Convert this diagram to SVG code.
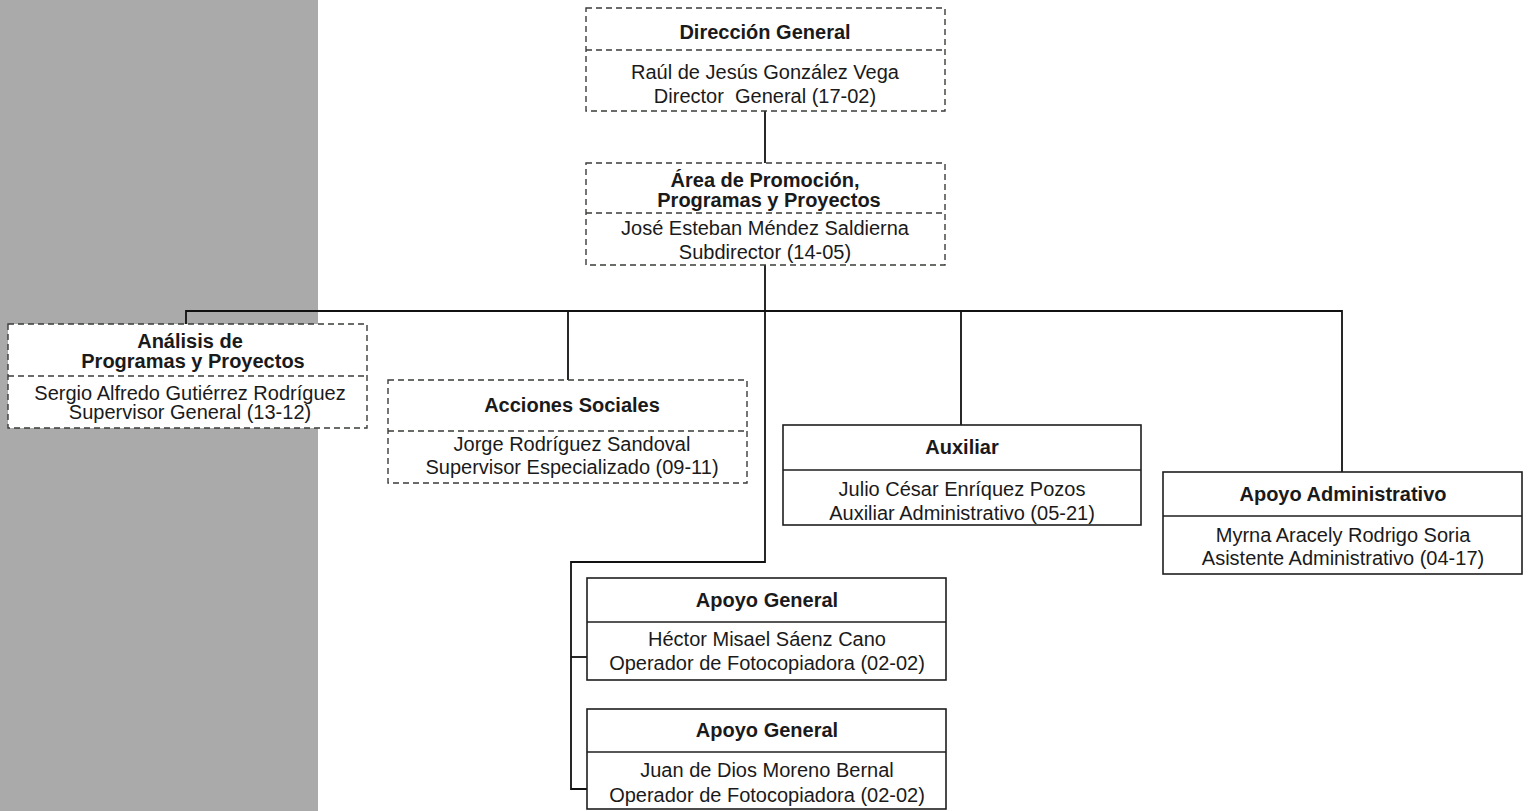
<svg xmlns="http://www.w3.org/2000/svg" width="1528" height="811" viewBox="0 0 1528 811">
<style>
.bg{fill:#ffffff}
.strip{fill:#a9aaa9}
.dash{fill:#ffffff;stroke:#3a3d38;stroke-width:1.4;stroke-dasharray:6 4}
.dl{stroke:#3a3d38;stroke-width:1.4;stroke-dasharray:6 4;fill:none}
.solid{fill:#ffffff;stroke:#1e1e1e;stroke-width:1.6}
.sl{stroke:#1e1e1e;stroke-width:1.4;fill:none}
.conn{stroke:#111;stroke-width:1.8;fill:none}
.t{font-family:"Liberation Sans",Arial,sans-serif;font-size:20px;font-weight:bold;fill:#1a1a1a;text-anchor:middle}
.n{font-family:"Liberation Sans",Arial,sans-serif;font-size:20px;fill:#1a1a1a;text-anchor:middle}
</style>
<rect class="bg" x="0" y="0" width="1528" height="811"/>
<rect class="strip" x="0" y="0" width="318" height="811"/>
<g id="connectors">
<path class="conn" d="M765 111 V163"/>
<path class="conn" d="M765 265 V562 H571 V789 H587"/>
<path class="conn" d="M571 657 H587"/>
<path class="conn" d="M186 324 V311 H1342 V472"/>
<path class="conn" d="M568 311 V380"/>
<path class="conn" d="M961 311 V425"/>
</g>
<g id="direccion-general">
<rect class="dash" x="586" y="8" width="359" height="103"/>
<line class="dl" x1="586" y1="50" x2="945" y2="50"/>
<text class="t" x="765" y="39">Dirección General</text>
<text class="n" x="765" y="79">Raúl de Jesús González Vega</text>
<text class="n" x="765" y="103" xml:space="preserve">Director  General (17-02)</text>
</g>
<g id="area-promocion">
<rect class="dash" x="586" y="163" width="359" height="102"/>
<line class="dl" x1="586" y1="213" x2="945" y2="213"/>
<text class="t" x="765" y="187">Área de Promoción,</text>
<text class="t" x="769" y="207">Programas y Proyectos</text>
<text class="n" x="765" y="235">José Esteban Méndez Saldierna</text>
<text class="n" x="765" y="259">Subdirector (14-05)</text>
</g>
<g id="analisis">
<rect class="dash" x="8" y="324" width="359" height="104"/>
<line class="dl" x1="8" y1="376" x2="367" y2="376"/>
<text class="t" x="190" y="348">Análisis de</text>
<text class="t" x="193" y="368">Programas y Proyectos</text>
<text class="n" x="190" y="400">Sergio Alfredo Gutiérrez Rodríguez</text>
<text class="n" x="190" y="419">Supervisor General (13-12)</text>
</g>
<g id="acciones-sociales">
<rect class="dash" x="388" y="380" width="359" height="103"/>
<line class="dl" x1="388" y1="431" x2="747" y2="431"/>
<text class="t" x="572" y="412">Acciones Sociales</text>
<text class="n" x="572" y="451">Jorge Rodríguez Sandoval</text>
<text class="n" x="572" y="474">Supervisor Especializado (09-11)</text>
</g>
<g id="auxiliar">
<rect class="solid" x="783" y="425" width="358" height="100"/>
<line class="sl" x1="783" y1="470" x2="1141" y2="470"/>
<text class="t" x="962" y="454">Auxiliar</text>
<text class="n" x="962" y="496">Julio César Enríquez Pozos</text>
<text class="n" x="962" y="520">Auxiliar Administrativo (05-21)</text>
</g>
<g id="apoyo-administrativo">
<rect class="solid" x="1163" y="472" width="359" height="102"/>
<line class="sl" x1="1163" y1="516" x2="1522" y2="516"/>
<text class="t" x="1343" y="501">Apoyo Administrativo</text>
<text class="n" x="1343" y="542">Myrna Aracely Rodrigo Soria</text>
<text class="n" x="1343" y="565">Asistente Administrativo (04-17)</text>
</g>
<g id="apoyo-general-1">
<rect class="solid" x="587" y="578" width="359" height="102"/>
<line class="sl" x1="587" y1="622" x2="946" y2="622"/>
<text class="t" x="767" y="607">Apoyo General</text>
<text class="n" x="767" y="646">Héctor Misael Sáenz Cano</text>
<text class="n" x="767" y="670">Operador de Fotocopiadora (02-02)</text>
</g>
<g id="apoyo-general-2">
<rect class="solid" x="587" y="709" width="359" height="100"/>
<line class="sl" x1="587" y1="752" x2="946" y2="752"/>
<text class="t" x="767" y="737">Apoyo General</text>
<text class="n" x="767" y="777">Juan de Dios Moreno Bernal</text>
<text class="n" x="767" y="802">Operador de Fotocopiadora (02-02)</text>
</g>
</svg>
